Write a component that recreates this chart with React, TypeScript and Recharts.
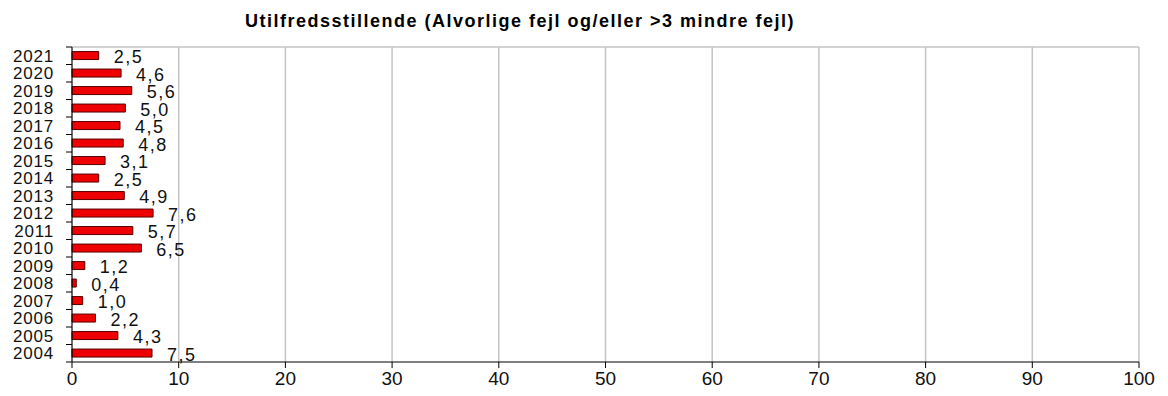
import { Bar, BarChart, CartesianGrid, XAxis, YAxis, LabelList } from "recharts"

const years = ["2021", "2020", "2019", "2018", "2017", "2016", "2015", "2014", "2013", "2012", "2011", "2010", "2009", "2008", "2007", "2006", "2005", "2004"]
const values = [2.5, 4.6, 5.6, 5.0, 4.5, 4.8, 3.1, 2.5, 4.9, 7.6, 5.7, 6.5, 1.2, 0.4, 1.0, 2.2, 4.3, 7.5]
const xTicks = [0, 10, 20, 30, 40, 50, 60, 70, 80, 90, 100]
const title = "Utilfredsstillende (Alvorlige fejl og/eller >3 mindre fejl)"

const W = 1168
const H = 396
const MARGIN = { top: 47, right: 29, left: 0, bottom: 4 }
const X_AXIS_H = 30
const Y_AXIS_W = 72
const PLOT_H = H - MARGIN.top - MARGIN.bottom - X_AXIS_H
const BAND = PLOT_H / years.length
const FONT = "'Liberation Sans', Arial, sans-serif"

const chartData = years.map((year, i) => ({ year, value: values[i] }))

function YTick(props: any) {
  const { x, y, payload, index } = props
  const last = index === years.length - 1
  return (
    <g>
      <line x1={x} x2={x + 6} y1={y - BAND / 2} y2={y - BAND / 2} stroke="#000" />
      {last && <line x1={x} x2={x + 6} y1={y + BAND / 2} y2={y + BAND / 2} stroke="#000" />}
      <text
        x={x - 12}
        y={y}
        dy="0.36em"
        textAnchor="end"
        fontSize={17}
        letterSpacing={0.8}
        fill="#111"
        fontFamily={FONT}
      >
        {payload.value}
      </text>
    </g>
  )
}

function ValueLabel(props: any) {
  const { x, y, width, height, value } = props
  return (
    <text
      x={x + width + 15}
      y={y + height / 2 + 1}
      dy="0.36em"
      fontSize={18}
      letterSpacing={1.5}
      fill="#111"
      fontFamily={FONT}
    >
      {Number(value).toFixed(1).replace(".", ",")}
    </text>
  )
}

export default function App() {
  return (
    <div style={{ position: "absolute", left: 0, top: 0, width: W, height: H, background: "#fff" }}>
      <div
        style={{
          position: "absolute",
          left: 0,
          width: 1040,
          top: 11,
          textAlign: "center",
          fontFamily: FONT,
          fontWeight: "bold",
          fontSize: 18,
          letterSpacing: 1.5,
          color: "#000",
          whiteSpace: "nowrap",
        }}
      >
        {title}
      </div>
      <BarChart width={W} height={H} data={chartData} layout="vertical" margin={MARGIN} barCategoryGap="26%">
        <CartesianGrid
          stroke="#c4c4c4"
          strokeWidth={1.5}
          horizontalCoordinatesGenerator={({ offset }: any) => [offset.top]}
        />
        <XAxis
          type="number"
          domain={[0, 100]}
          ticks={xTicks}
          interval={0}
          height={X_AXIS_H}
          tickSize={6}
          tickMargin={4}
          stroke="#000"
          tick={{ fill: "#111", fontSize: 19, fontFamily: FONT }}
        />
        <YAxis
          type="category"
          dataKey="year"
          width={Y_AXIS_W}
          tickSize={6}
          tickMargin={0}
          tickLine={false}
          stroke="#000"
          interval={0}
          tick={(p: any) => <YTick {...p} />}
        />
        <Bar dataKey="value" fill="#ee0000" stroke="#5a0000" strokeWidth={1} isAnimationActive={false}>
          <LabelList dataKey="value" content={(p: any) => <ValueLabel {...p} />} />
        </Bar>
      </BarChart>
    </div>
  )
}
